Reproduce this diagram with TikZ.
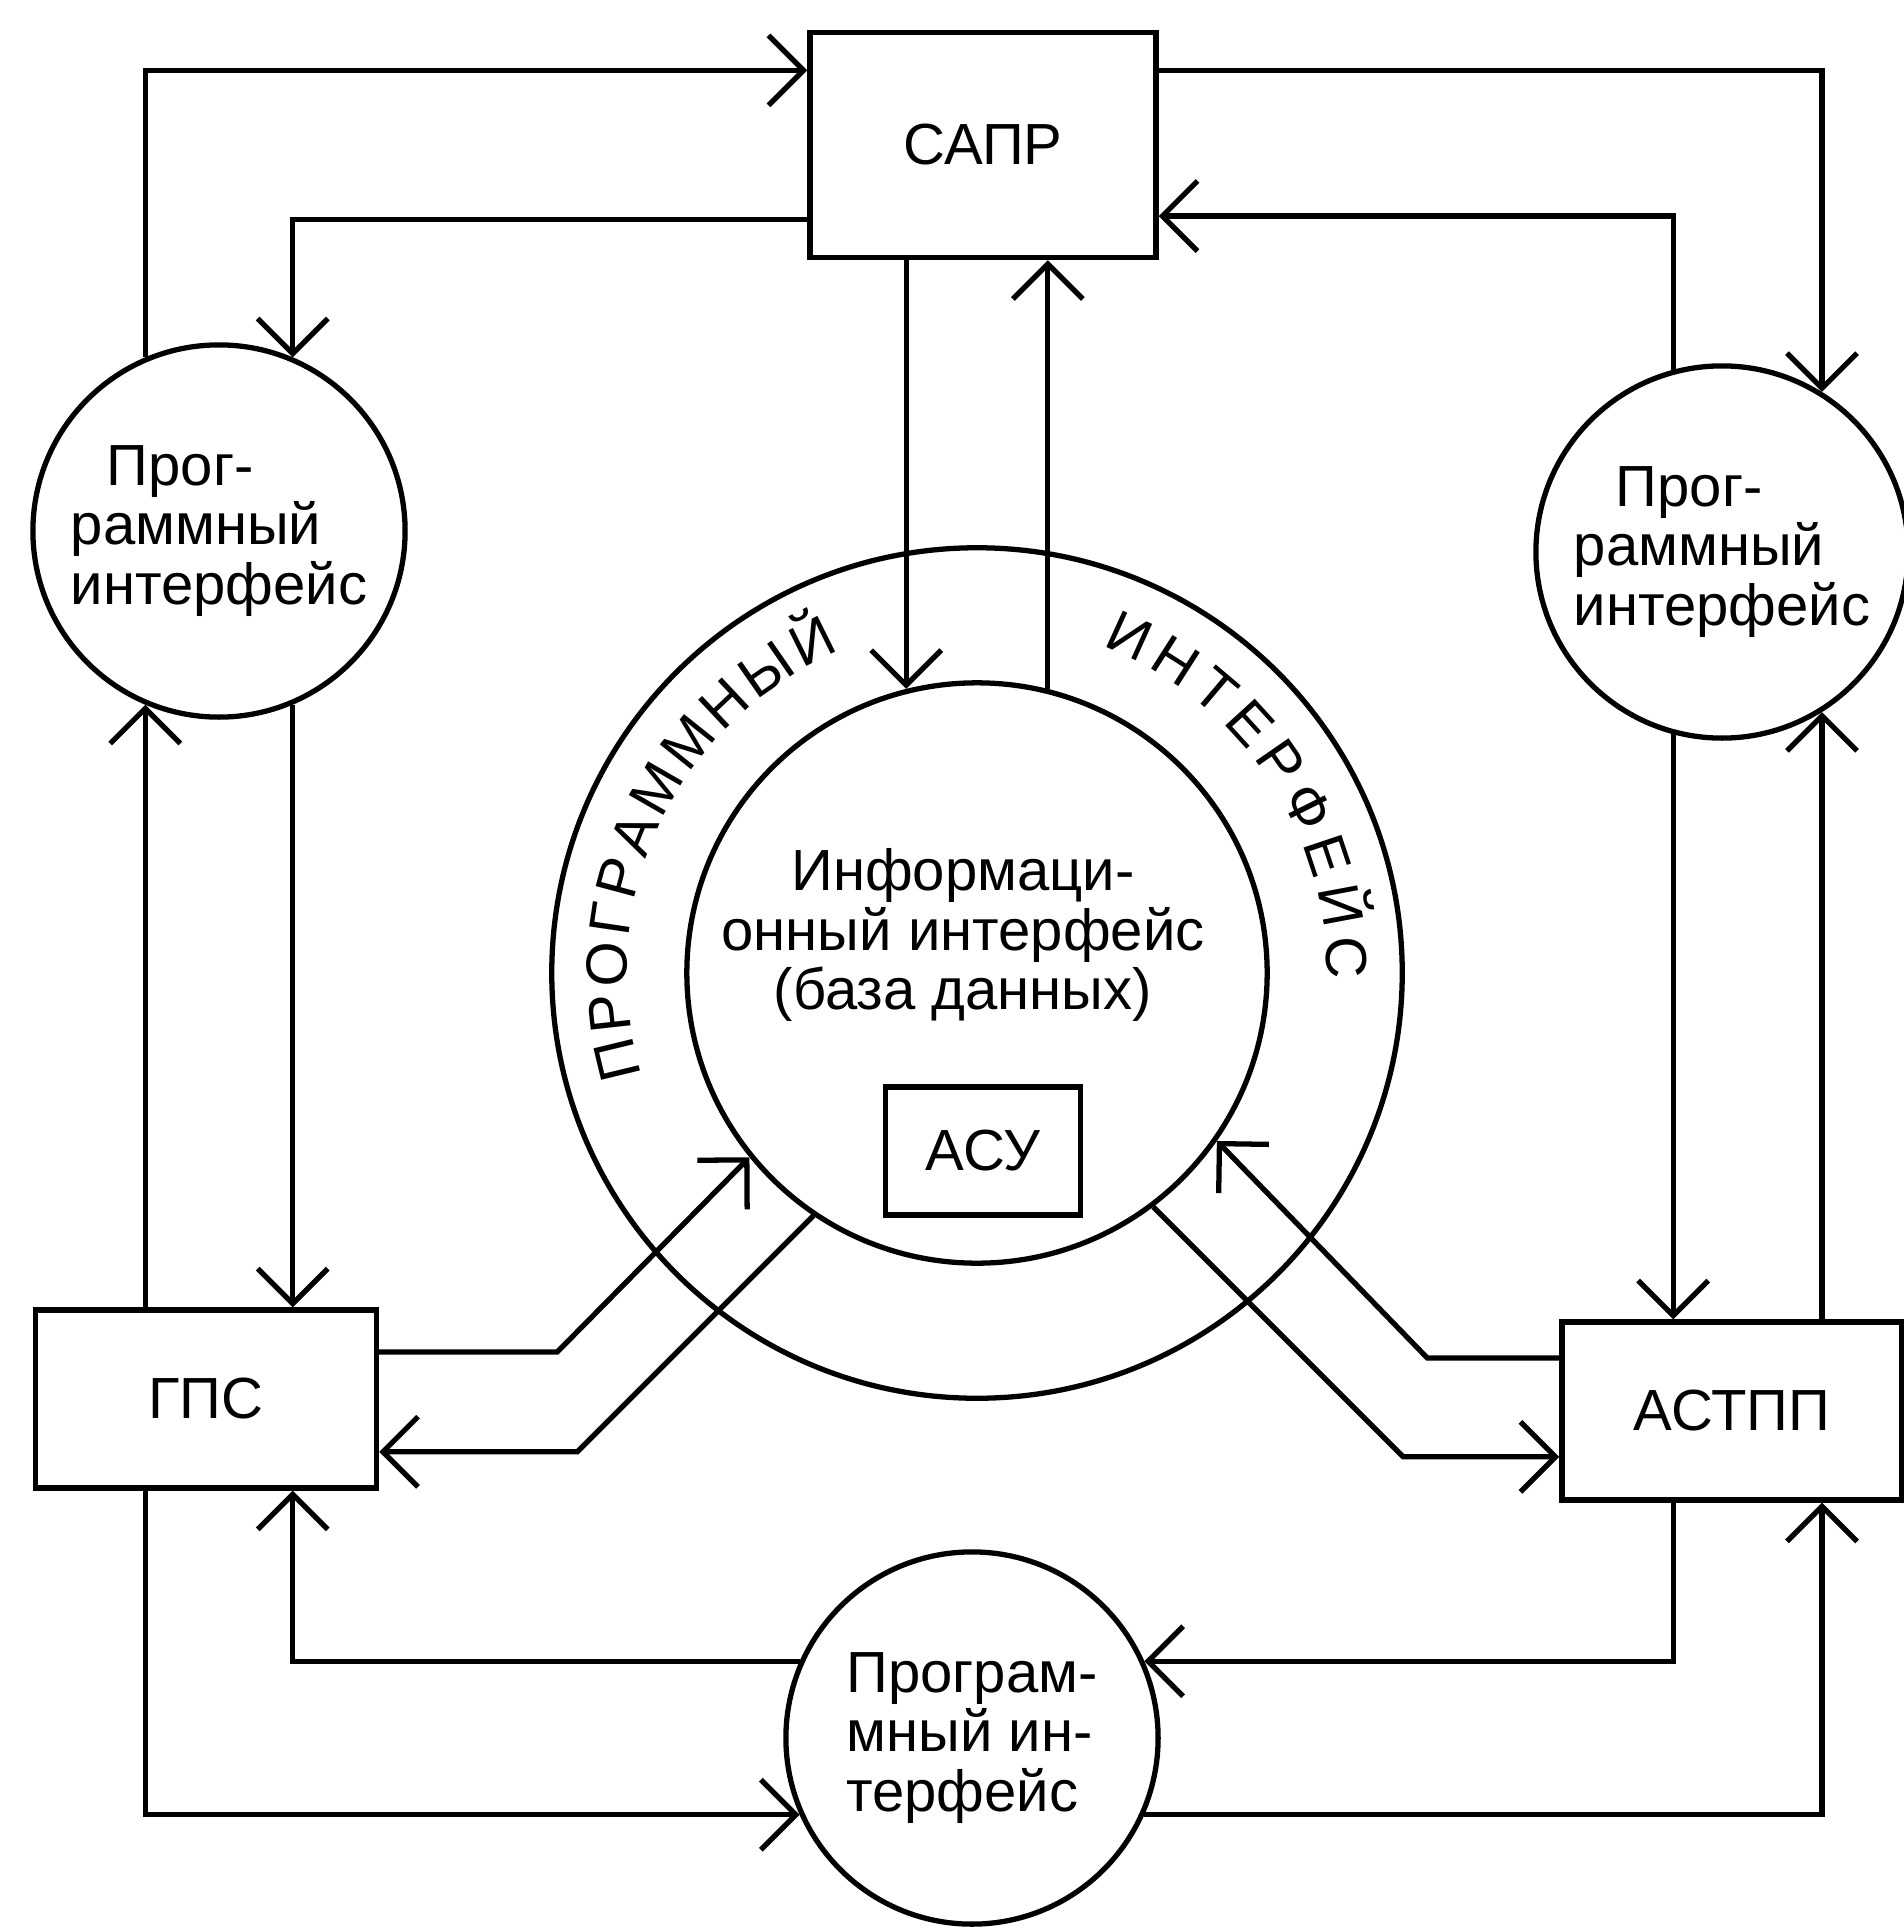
\documentclass[tikz,border=0pt]{standalone}
\usepackage{fontspec}
\setmainfont{Liberation Sans}
\usetikzlibrary{positioning,arrows.meta,decorations.text}

\newcommand\ringfont{\fontsize{16.5}{17}\selectfont}

\begin{document}
\begin{tikzpicture}[x=0.01cm, y=0.01cm, line width=1.5pt,
    >={Straight Barb[length=3.5mm,width=7mm]},
    every node/.style={font=\ringfont},
    sysbox/.style={draw, rectangle, inner sep=0pt},
    ifcircle/.style={draw, circle, inner sep=0pt, minimum size=3.72cm, align=left}]
  \useasboundingbox (0,0) rectangle (1904,-1927);
  % systems
  \node[sysbox, minimum width=3.46cm, minimum height=2.25cm] (sapr) at (983,-145) {САПР};
  \node[sysbox, minimum width=3.41cm, minimum height=1.78cm] (gps) at (206,-1399) {ГПС};
  \node[sysbox, minimum width=3.40cm, minimum height=1.78cm] (astpp) at (1732,-1411) {АСТПП};
  % program interfaces
  \node[ifcircle] (pil) at (219,-531) {\hspace*{3.6mm}Прог-\\раммный\\интерфейс};
  \node[ifcircle] (pir) at (1722,-552) {\hspace*{4.2mm}Прог-\\раммный\\интерфейс};
  \node[ifcircle] (pib) at (972,-1738) {Програм-\\мный ин-\\терфейс};
  % information interface
  \node[draw, circle, inner sep=0pt, minimum size=8.5cm] (ring) at (977,-973) {};
  \node[draw, circle, inner sep=0pt, minimum size=5.8cm] (infoc) at (ring.center) {};
  \node[sysbox, minimum width=1.95cm, minimum height=1.28cm] (asu) at (983,-1151) {АСУ};
  \node[align=center, above=0.48cm of asu, xshift=-0.2cm] (infotxt)
    {Информаци-\\онный интерфейс\\(база данных)};
  % ring text
  \path[decorate, decoration={text along path, text align={fit to path},
      text={|\ringfont|ПРОГРАММНЫЙ}}]
    ([shift={(197:350)}]ring.center) arc[start angle=197, end angle=113, radius=350];
  \path[decorate, decoration={text along path, text align={fit to path},
      text={|\ringfont|ИНТЕРФЕЙС}}]
    ([shift={(69:350)}]ring.center) arc[start angle=69, end angle=-1, radius=350];
  % САПР and program interfaces
  \draw[->] (pil.113) |- (sapr.157);
  \draw[->] (sapr.203) -| (pil.67);
  \draw[->] (sapr.23) -| (pir.58);
  \draw[->] (pir.105) |- (sapr.338);
  % side columns
  \draw[->] (gps.north -| pil.247) -- (pil.247);
  \draw[->] (pil.293) -- (pil.293 |- gps.north);
  \draw[->] (pir.255) -- (pir.255 |- astpp.north);
  \draw[->] (astpp.north -| pir.302) -- (pir.302);
  % bottom interface
  \draw[->] (pib.156) -| (gps.south -| pil.293);
  \draw[->] (gps.south -| pil.247) |- (pib.204);
  \draw[->] (astpp.south -| pir.255) |- (pib.24);
  \draw[->] (pib.336) -| (astpp.south -| pir.302);
  % data base links
  \draw[->] (sapr.south -| infoc.104) -- (infoc.104);
  \draw[->] (infoc.76) -- (infoc.76 |- sapr.south);
  \draw[->] ([yshift=4.7mm]gps.east) -- ++(178,0) -- (infoc.219);
  \draw[->] (infoc.236) -- ++(-236,-236) coordinate (g) -- (g -| gps.east);
  \draw[->] ([yshift=5.3mm]astpp.west) -- ++(-132,0) -- (infoc.325);
  \draw[->] (infoc.307) -- ++(250,-250) coordinate (a) -- (a -| astpp.west);
\end{tikzpicture}
\end{document}
